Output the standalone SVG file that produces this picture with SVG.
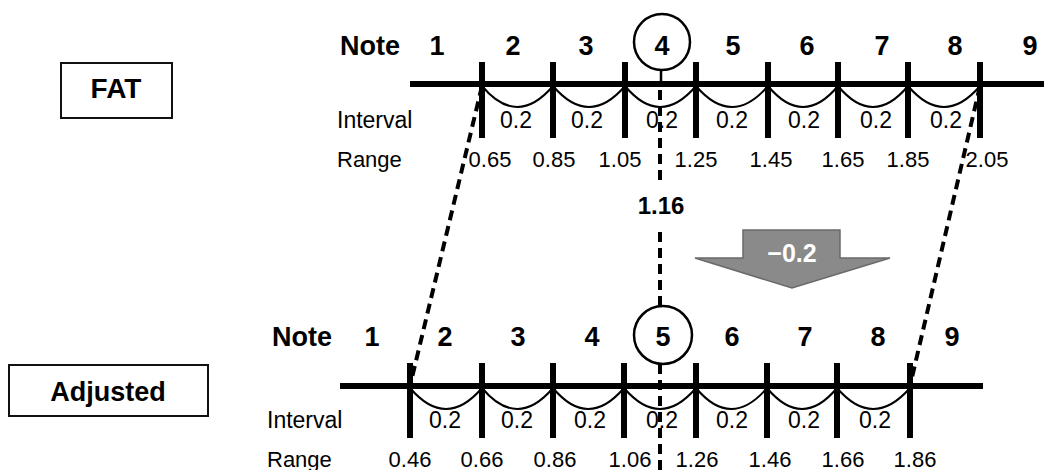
<svg xmlns="http://www.w3.org/2000/svg" width="1044" height="470" viewBox="0 0 1044 470">
<style>
text{font-family:"Liberation Sans",Arial,sans-serif;fill:#000}
.nt{font-size:27px;font-weight:bold;text-anchor:middle}
.lbl{font-size:23px}
.rl{font-size:22px}
.iv{font-size:23px;text-anchor:middle}
.rv{font-size:22px;text-anchor:middle}
.axis{stroke:#000;stroke-width:6;fill:none}
.tick{stroke:#000;stroke-width:6}
.arc{stroke:#000;stroke-width:2;fill:none}
.dash{stroke:#000;stroke-width:4;stroke-dasharray:10 6;fill:none}
.box{fill:#fff;stroke:#111;stroke-width:2}
.circ{fill:#fff;stroke:#000;stroke-width:2.5}
</style>

<g id="fat-box">
<rect class="box" x="61" y="63" width="111" height="55"/>
<text x="116" y="98" font-size="28" font-weight="bold" text-anchor="middle">FAT</text>
</g>
<g id="adjusted-box">
<rect class="box" x="9" y="365" width="199" height="51"/>
<text x="108" y="401" font-size="27" font-weight="bold" text-anchor="middle">Adjusted</text>
</g>

<g id="top-scale">
<line class="axis" x1="410" y1="84" x2="1044" y2="84"/>
<g class="tick">
<line x1="482" y1="62" x2="482" y2="138"/><line x1="553" y1="62" x2="553" y2="138"/>
<line x1="625" y1="62" x2="625" y2="138"/><line x1="696" y1="62" x2="696" y2="138"/>
<line x1="768" y1="62" x2="768" y2="138"/><line x1="838" y1="62" x2="838" y2="138"/>
<line x1="908" y1="62" x2="908" y2="138"/><line x1="980" y1="62" x2="980" y2="138"/>
</g>
<path class="arc" d="M482,86 Q517,128 553,86 M553,86 Q589,128 625,86 M625,86 Q660,128 696,86 M696,86 Q732,128 768,86 M768,86 Q803,128 838,86 M838,86 Q873,128 908,86 M908,86 Q944,128 980,86"/>
<text x="340" y="55" font-size="27" font-weight="bold">Note</text>
<text class="nt" x="437" y="55">1</text><text class="nt" x="513" y="55">2</text>
<text class="nt" x="586" y="55">3</text><text class="nt" x="733" y="55">5</text>
<text class="nt" x="807" y="55">6</text><text class="nt" x="882" y="55">7</text>
<text class="nt" x="955" y="55">8</text><text class="nt" x="1030" y="55">9</text>
<line x1="661" y1="70" x2="661" y2="84" stroke="#000" stroke-width="2.5"/>
<circle class="circ" cx="662" cy="42" r="28"/>
<text class="nt" x="662" y="55">4</text>
<text class="lbl" x="337" y="128">Interval</text>
<text class="iv" x="516" y="128">0.2</text><text class="iv" x="587" y="128">0.2</text>
<text class="iv" x="662" y="128">0.2</text><text class="iv" x="732" y="128">0.2</text>
<text class="iv" x="804" y="128">0.2</text><text class="iv" x="876" y="128">0.2</text>
<text class="iv" x="946" y="128">0.2</text>
<text class="rl" x="337" y="167">Range</text>
<text class="rv" x="490" y="167">0.65</text><text class="rv" x="554" y="167">0.85</text>
<text class="rv" x="620" y="167">1.05</text><text class="rv" x="696" y="167">1.25</text>
<text class="rv" x="771" y="167">1.45</text><text class="rv" x="843" y="167">1.65</text>
<text class="rv" x="908" y="167">1.85</text><text class="rv" x="987" y="167">2.05</text>
</g>

<g id="bottom-scale">
<line class="axis" x1="340" y1="386" x2="983" y2="386"/>
<g class="tick">
<line x1="410" y1="363" x2="410" y2="438"/><line x1="482" y1="363" x2="482" y2="438"/>
<line x1="553" y1="363" x2="553" y2="438"/><line x1="624" y1="363" x2="624" y2="438"/>
<line x1="696" y1="363" x2="696" y2="438"/><line x1="767" y1="363" x2="767" y2="438"/>
<line x1="837" y1="363" x2="837" y2="438"/><line x1="910" y1="363" x2="910" y2="438"/>
</g>
<path class="arc" d="M410,388 Q446,430 482,388 M482,388 Q517,430 553,388 M553,388 Q588,430 624,388 M624,388 Q660,430 696,388 M696,388 Q731,430 767,388 M767,388 Q802,430 837,388 M837,388 Q873,430 910,388"/>
<text x="272" y="346" font-size="27" font-weight="bold">Note</text>
<text class="nt" x="372" y="346">1</text><text class="nt" x="445" y="346">2</text>
<text class="nt" x="518" y="346">3</text><text class="nt" x="592" y="346">4</text>
<text class="nt" x="732" y="346">6</text><text class="nt" x="805" y="346">7</text>
<text class="nt" x="878" y="346">8</text><text class="nt" x="952" y="346">9</text>
<circle class="circ" cx="663" cy="335" r="29"/>
<text class="nt" x="663" y="346">5</text>
<text class="lbl" x="267" y="428">Interval</text>
<text class="iv" x="445" y="428">0.2</text><text class="iv" x="517" y="428">0.2</text>
<text class="iv" x="590" y="428">0.2</text><text class="iv" x="662" y="428">0.2</text>
<text class="iv" x="732" y="428">0.2</text><text class="iv" x="804" y="428">0.2</text>
<text class="iv" x="875" y="428">0.2</text>
<text class="rl" x="267" y="467">Range</text>
<text class="rv" x="410" y="467">0.46</text><text class="rv" x="482" y="467">0.66</text>
<text class="rv" x="555" y="467">0.86</text><text class="rv" x="630" y="467">1.06</text>
<text class="rv" x="697" y="467">1.26</text><text class="rv" x="770" y="467">1.46</text>
<text class="rv" x="843" y="467">1.66</text><text class="rv" x="915" y="467">1.86</text>
</g>

<g id="shift-arrow">
<polygon points="743,230 840,230 840,258 890,258 792,288 695,258 743,258" fill="#8a8a8a" stroke="#6a6a6a" stroke-width="1.5"/>
<text x="792" y="262" font-size="25" font-weight="bold" text-anchor="middle" style="fill:#fff">−0.2</text>
</g>

<g id="value-label">
<text x="661" y="214" font-size="24" font-weight="bold" text-anchor="middle">1.16</text>
</g>

<g id="connectors">
<line class="dash" x1="482" y1="86" x2="410" y2="386"/>
<line class="dash" x1="980" y1="86" x2="910" y2="386"/>
<line class="dash" x1="660" y1="90" x2="660" y2="186"/>
<line class="dash" x1="660" y1="232" x2="660" y2="306"/>
<line class="dash" x1="660" y1="364" x2="660" y2="470"/>
</g>
</svg>
